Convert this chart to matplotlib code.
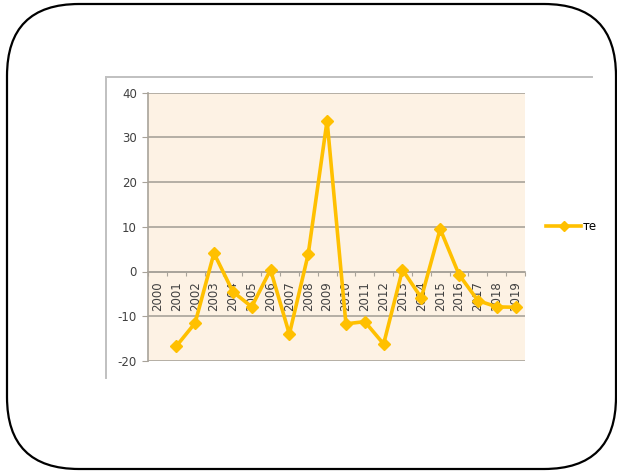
import numpy as np
import matplotlib.pyplot as plt
from matplotlib.patches import FancyBboxPatch
from matplotlib.lines import Line2D

plt.rcParams['axes.unicode_minus'] = False

years = [str(y) for y in range(2000, 2020)]
values = [np.nan, -16.7, -11.5, 4.1, -4.5, -7.9, 0.4, -14.0, 3.9, 33.7,
          -11.7, -11.2, -16.2, 0.4, -5.9, 9.5, -0.7, -6.5, -7.9, -8.0]
yticks = [-20, -10, 0, 10, 20, 30, 40]
series_name = "те"

W, H = 617, 472
fig = plt.figure(figsize=(W / 100, H / 100), dpi=100)

# background canvas in pixel coordinates for the rounded frame
bg = fig.add_axes([0, 0, 1, 1], zorder=0)
bg.set_xlim(0, W)
bg.set_ylim(H, 0)
bg.axis("off")
frame = FancyBboxPatch((7, 4), 609, 465,
                       boxstyle="round,pad=0,rounding_size=72",
                       fc="white", ec="black", lw=1.6)
bg.add_patch(frame)
# chart object border (top and left visible)
bg.plot([106, 592], [77, 77], color="#c0c0c0", lw=1.4)
bg.plot([106, 106], [77, 378], color="#c0c0c0", lw=1.4)

ax = fig.add_axes([148 / W, 1 - 361 / H, 377 / W, 268.5 / H], zorder=1)
ax.set_facecolor("#fdf2e4")
x = np.arange(len(years))
ax.plot(x, values, color="#FFC000", lw=2.6, marker="D",
        markersize=6.5, markeredgecolor="#FFC000", zorder=3)

ax.set_xlim(-0.5, len(years) - 0.5)
ax.set_ylim(-20, 40)
ax.set_yticks(yticks)
ax.yaxis.grid(True, color="#a8a39a", lw=1.2)
ax.set_axisbelow(True)
for s in ["top", "right"]:
    ax.spines[s].set_visible(False)
ax.spines["left"].set_color("#a8a39a")
ax.spines["left"].set_linewidth(1.2)
ax.spines["bottom"].set_position(("data", 0))
ax.spines["bottom"].set_color("#a8a39a")
ax.spines["bottom"].set_linewidth(1.2)
ax.set_xticks(np.arange(-0.5, len(years)))
ax.set_xticklabels([])
ax.tick_params(axis="x", direction="out", length=3, color="#a8a39a")
ax.tick_params(axis="y", direction="out", length=4, color="#a8a39a",
               labelsize=8.5, labelcolor="#404040", pad=4)

for i, yr in enumerate(years):
    ax.annotate(yr, (i, 0), xytext=(0, -7), textcoords="offset points",
                rotation=90, ha="center", va="top", fontsize=8.5,
                color="#404040", zorder=2)

handle = Line2D([], [], color="#FFC000", lw=2.6, marker="D", markersize=5.5)
fig.legend([handle], [series_name], loc="center left",
           bbox_to_anchor=(546 / W, 1 - 227 / H), frameon=False,
           handlelength=3.0, handletextpad=0.1, fontsize=8.5,
           borderaxespad=0, borderpad=0)

fig.savefig("out.png", dpi=100)
